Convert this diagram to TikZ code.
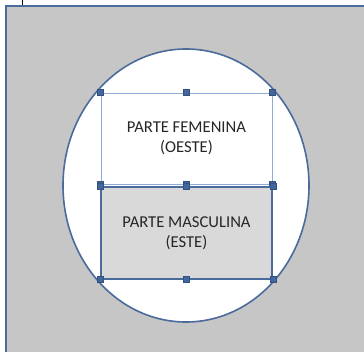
\documentclass[tikz,border=0pt]{standalone}
\usepackage{fontspec}
\setmainfont{Carlito}
\definecolor{frameblue}{HTML}{4A6B9C}
\definecolor{lineblue}{HTML}{8EACD6}
\definecolor{handleblue}{HTML}{41679E}
\definecolor{backgray}{HTML}{C6C6C6}
\definecolor{boxgray}{HTML}{D9D9D9}
\definecolor{textgray}{HTML}{262626}
\tikzset{
  part/.style={draw,minimum width=171pt,align=center,text=textgray,font=\fontsize{16.6}{20}\selectfont,inner sep=0pt},
  handle/.style={fill=handleblue,draw=handleblue!80!black,minimum size=6pt,inner sep=0pt}
}
\begin{document}
\begin{tikzpicture}[x=1pt,y=-1pt]
  \useasboundingbox (0,0) rectangle (364,352);

  % Background
  \begin{scope}
    \clip (0,0) rectangle (364,352);
    \fill[backgray] (6,6) rectangle (372,360);
    \draw[frameblue,line width=2.2pt] (6,372) -- (6,6) -- (372,6);
    \draw[black,line width=1.8pt] (22.5,0) -- (22.5,5);
  \end{scope}

  % Circle
  \draw[frameblue,fill=white,line width=1.6pt] (186,185.5) ellipse [x radius=123, y radius=136.5];

  % Parts
  \node[part,draw=lineblue,line width=0.8pt,minimum height=91pt] (femenina) at (186.5,138.5) {PARTE FEMENINA\\(OESTE)};
  \foreach \a in {north west,north,north east,south west,south,south east}
    \node[handle] at (femenina.\a) {};
  \node[part,draw=frameblue,fill=boxgray,line width=1.4pt,minimum height=92pt] (masculina) at (186.5,233) {PARTE MASCULINA\\(ESTE)};
  \foreach \a in {north west,north,north east,south west,south,south east}
    \node[handle] at (masculina.\a) {};
\end{tikzpicture}
\end{document}
